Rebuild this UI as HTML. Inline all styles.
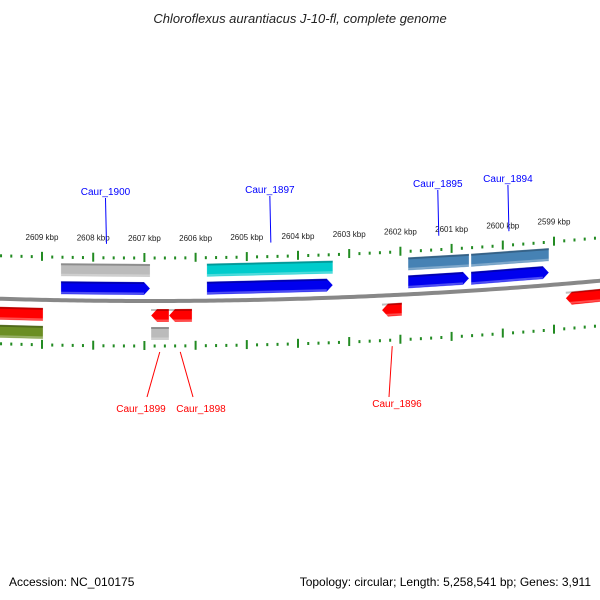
<!DOCTYPE html>
<html><head><meta charset="utf-8"><style>
html,body{margin:0;padding:0;background:#fff;}
svg{display:block;font-family:"Liberation Sans",sans-serif;}
</style></head><body>
<svg id="chart" width="600" height="600" viewBox="0 0 600 600">
<text x="300" y="23" text-anchor="middle" font-size="13" font-style="italic" fill="#222">Chloroflexus aurantiacus J-10-fl, complete genome</text>
<text x="9" y="586" font-size="12" fill="#000">Accession: NC_010175</text>
<text x="591" y="586" text-anchor="end" font-size="12" fill="#000">Topology: circular; Length: 5,258,541 bp; Genes: 3,911</text>
<g id="g"></g>
</svg>
<script>
// data (kbp)
const tickKbp = [2609,2608,2607,2606,2605,2604,2603,2602,2601,2600,2599];
const fwdGenes = [[2608.63,2606.89],[2605.78,2603.32],[2601.85,2600.66],[2600.62,2599.10]];
const fwdAnnot = [[2608.63,2606.89],[2605.78,2603.32],[2601.85,2600.66],[2600.62,2599.10]];
const fwdAnnotColors = ["#bbbbbb","#00cccc","#4682b4","#4682b4"];
const revGenes = [[2609.9,2608.98],[2606.87,2606.52],[2606.52,2606.07],[2602.36,2601.97],[2598.77,2598.0]];
const revArrow = [false,true,true,true,true];
const revAnnot = [[2609.9,2608.98],[2606.87,2606.52]];
const revAnnotColors = ["#6b8e23","#bbbbbb"];
const fwdLabels = ["Caur_1900","Caur_1897","Caur_1895","Caur_1894"];
const fwdLabelKbp = [2607.76,2604.55,2601.27,2599.90];
const fwdLabelY = [192,190,184,179];
const revLabels = ["Caur_1899","Caur_1898","Caur_1896"];
const revLabelKbp = [2606.70,2606.30,2602.16];
const revTextX = [141,201,397];

const NS="http://www.w3.org/2000/svg";
const g=document.getElementById('g');
const X=k=>42+(2609-k)*51.2;
const dy=x=>-1.0e-4*(x-150)*(x-150);
function mk(tag,attrs){const e=document.createElementNS(NS,tag);for(const k in attrs)e.setAttribute(k,attrs[k]);g.appendChild(e);return e;}
function curvePath(base){let d="";for(let x=-2;x<=602;x+=4){d+=(x<0?"M":"L")+x+","+(base+dy(x)).toFixed(2);}return d;}
// backbone
let bb=mk('path',{d:curvePath(301),stroke:'#888',fill:'none','stroke-width':4});


// tick rows
[258,346].forEach((base,ri)=>{
  for(let k=2610;k>=2597.9;k-=0.2){
    const kk=Math.round(k*10)/10;const x=X(kk);if(x<-2||x>602)continue;
    const major=Math.abs(kk-Math.round(kk))<0.01;
    const y=base+dy(x);
    const t=mk('line',{x1:x,x2:x,y1:major?y-5:y-1.5,y2:major?y+4:y+1.5,stroke:'#228b22','stroke-width':2});
    
    
  }
});
tickKbp.forEach(k=>{const x=X(k);
  const t=mk('text',{x:x,y:241+dy(x),'text-anchor':'middle','font-size':8,fill:'#222'});
  t.textContent=k+" kbp";
  
  
});
function box(a,b,top,h,color,dir,name){
  const x1=X(a),x2=X(b);const t1=top+dy(x1),t2=top+dy(x2);
  let pts;
  if(dir==1){pts=[[x1,t1],[x2-6,t2],[x2,t2+h/2],[x2-6,t2+h],[x1,t1+h]];}
  else if(dir==-1){pts=[[x1+6,t1],[x2,t2],[x2,t2+h],[x1+6,t1+h],[x1,t1+h/2]];}
  else pts=[[x1,t1],[x2,t2],[x2,t2+h],[x1,t1+h]];
  const p=mk('polygon',{points:pts.map(p=>p.join(',')).join(' '),fill:color,stroke:'rgba(255,255,255,0.5)','stroke-width':0.5});
  
  
  mk('line',{x1:x1,y1:t1+1,x2:x2-(dir==1?6:0),y2:t2+1,stroke:'rgba(0,0,0,0.25)','stroke-width':2});
  mk('line',{x1:x1,y1:t1+h-1.5,x2:x2-(dir==1?6:0),y2:t2+h-1.5,stroke:'rgba(255,255,255,0.3)','stroke-width':2});
}
fwdAnnot.forEach((a,i)=>box(a[0],a[1],264,13,fwdAnnotColors[i],0,'forward-annotation'));
fwdGenes.forEach(a=>box(a[0],a[1],282,13,'#0000ee',1,'forward-gene'));
revGenes.forEach((a,i)=>box(a[0],a[1],309,13,'#ff0000',revArrow[i]?-1:0,'reverse-gene'));
revAnnot.forEach((a,i)=>box(a[0],a[1],327,13,revAnnotColors[i],0,'reverse-annotation'));
fwdLabels.forEach((s,i)=>{const x=X(fwdLabelKbp[i]);
  const l=mk('line',{x1:x,y1:fwdLabelY[i]+6,x2:x+1,y2:247+dy(x)-3,stroke:'#0000ff','stroke-width':1});
  
  
  const t=mk('text',{x:x,y:fwdLabelY[i]+3,'text-anchor':'middle','font-size':10,fill:'#0000ff'});t.textContent=s;
  
  
});
revLabels.forEach((s,i)=>{const x=X(revLabelKbp[i]);const tx=revTextX[i];
  const l=mk('line',{x1:x,y1:352+dy(x),x2:tx+(tx<x?6:(tx>x+3?-8:0)),y2:397,stroke:'#ff0000','stroke-width':1});
  
  
  const t=mk('text',{x:tx,y:i==2?407:412,'text-anchor':'middle','font-size':10,fill:'#ff0000'});t.textContent=s;
  
  
});
</script>
</body></html>
